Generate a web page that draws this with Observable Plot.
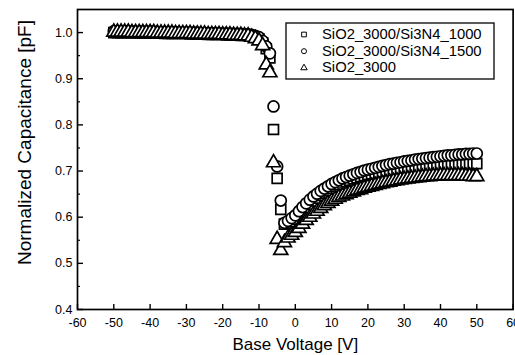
<!DOCTYPE html>
<html><head><meta charset="utf-8">
<script src="https://cdn.jsdelivr.net/npm/d3@7"></script>
<script src="https://cdn.jsdelivr.net/npm/@observablehq/plot@0.6"></script>
<style>
body{margin:0;background:#fff;}
#wrap{position:relative;width:515px;height:355px;overflow:hidden;}
#legend{position:absolute;left:285px;top:22px;}
</style></head><body><div id="wrap"></div>
<script>
const voltage = [-50,-49,-48,-47,-46,-45,-44,-43,-42,-41,-40,-39,-38,-37,-36,-35,-34,-33,-32,-31,
-30,-29,-28,-27,-26,-25,-24,-23,-22,-21,-20,-19,-18,-17,-16,-15,-14,-13,-12,-11,
-10,-9,-8,-7,-6,-5,-4,-3,-2,-1,0,1,2,3,4,5,6,7,8,9,10,11,12,13,14,15,16,17,18,19,
20,21,22,23,24,25,26,27,28,29,30,31,32,33,34,35,36,37,38,39,40,41,42,43,44,45,46,47,48,49,50];

const seriesNames = ["SiO2_3000/Si3N4_1000", "SiO2_3000/Si3N4_1500", "SiO2_3000"];
const seriesSymbols = ["square", "circle", "triangle"];

const cap1000 = [1.000,1.000,1.000,1.000,1.000,1.000,1.000,0.999,0.999,0.999,
0.999,0.999,0.999,0.999,0.998,0.998,0.998,0.998,0.998,0.998,
0.998,0.997,0.997,0.997,0.997,0.997,0.996,0.996,0.996,0.996,
0.996,0.995,0.995,0.995,0.995,0.994,0.994,0.994,
0.993,0.990,0.986,0.978,0.965,0.945,0.790,0.684,0.617,0.585,0.587,0.590,
0.595,0.604,0.612,0.620,0.628,0.635,0.641,0.647,0.652,0.657,
0.662,0.666,0.670,0.674,0.677,0.680,0.683,0.685,0.688,0.690,
0.692,0.694,0.695,0.697,0.698,0.700,0.701,0.702,0.704,0.705,
0.706,0.707,0.708,0.708,0.709,0.710,0.711,0.711,0.712,0.712,
0.713,0.713,0.714,0.714,0.715,0.715,0.715,0.716,0.716,0.716,0.716];

const cap1500 = [1.003,1.003,1.003,1.003,1.003,1.002,1.002,1.002,1.002,1.002,
1.002,1.002,1.001,1.001,1.001,1.001,1.001,1.001,1.000,1.000,
1.000,1.000,1.000,1.000,0.999,0.999,0.999,0.999,0.999,0.998,
0.998,0.998,0.998,0.997,0.997,0.997,0.996,0.996,
0.995,0.993,0.990,0.982,0.970,0.955,0.840,0.710,0.636,0.588,0.592,0.598,
0.604,0.613,0.622,0.630,0.638,0.645,0.651,0.657,0.662,0.667,
0.672,0.676,0.680,0.684,0.687,0.690,0.693,0.696,0.698,0.701,
0.703,0.705,0.707,0.709,0.711,0.713,0.715,0.716,0.718,0.719,
0.721,0.722,0.723,0.725,0.726,0.727,0.728,0.729,0.730,0.731,
0.732,0.733,0.734,0.734,0.735,0.736,0.736,0.737,0.737,0.738,0.738];

const cap3000 = [1.001,1.001,1.001,1.001,1.001,1.000,1.000,1.000,1.000,1.000,
1.000,1.000,0.999,0.999,0.999,0.999,0.999,0.998,0.998,0.998,
0.998,0.998,0.997,0.997,0.997,0.997,0.996,0.996,0.996,0.996,
0.995,0.995,0.995,0.994,0.994,0.994,0.993,0.993,
0.990,0.987,0.982,0.972,0.930,0.913,0.718,0.552,0.528,0.545,0.555,0.561,
0.567,0.576,0.585,0.593,0.600,0.607,0.613,0.619,0.625,0.630,
0.635,0.639,0.643,0.646,0.649,0.652,0.655,0.658,0.660,0.663,
0.665,0.667,0.669,0.671,0.673,0.675,0.676,0.678,0.679,0.681,
0.682,0.683,0.684,0.685,0.686,0.687,0.688,0.688,0.689,0.689,
0.690,0.690,0.690,0.690,0.690,0.690,0.690,0.689,0.689,0.688,0.688];

const xTicks = [-60,-50,-40,-30,-20,-10,0,10,20,30,40,50,60];
const yTicks = [0.4,0.5,0.6,0.7,0.8,0.9,1.0];
const yMinorTicks = [0.45,0.55,0.65,0.75,0.85,0.95];

const capSeries = [cap1000, cap1500, cap3000];
const markerR = {square: 5.6, circle: 5.5, triangle: 5.2};

const rows = capSeries.map((vals, i) => voltage.map((v, j) => ({series: seriesNames[i], v, c: vals[j]})));

const W = 515, H = 355, ML = 77, MR = 2.4, MT = 9, MB = 46;
const plotH = H - MT - MB, plotW = W - ML - MR;

const chart = Plot.plot({
  width: W, height: H,
  marginLeft: ML, marginRight: MR, marginTop: MT, marginBottom: MB,
  style: {fontFamily: "'Liberation Sans', Arial, sans-serif", fontSize: "12.5px", color: "black", background: "white"},
  x: {domain: [-60, 60]},
  y: {domain: [0.4, 1.05]},
  marks: [
    Plot.axisX({ticks: xTicks, tickSize: 0, tickPadding: 9, tickFormat: d => d < 0 ? "-" + (-d) : String(d), label: null}),
    Plot.axisY({ticks: yTicks, tickSize: 0, tickPadding: 5, tickFormat: d => d.toFixed(1), label: null}),
    Plot.tickX(xTicks, {x: d => d, insetTop: plotH - 5, stroke: "black", strokeWidth: 1.4}),
    Plot.tickY(yTicks, {y: d => d, insetRight: plotW - 6, stroke: "black", strokeWidth: 1.4}),
    Plot.tickY(yMinorTicks, {y: d => d, insetRight: plotW - 3, stroke: "black", strokeWidth: 1.2}),
    ...rows.map((data, i) => Plot.dot(data, {
      x: "v", y: "c", symbol: seriesSymbols[i], r: markerR[seriesSymbols[i]],
      stroke: "black", fill: "white", strokeWidth: 1.7
    })),
    Plot.frame({stroke: "black", strokeWidth: 1.7}),
    Plot.text(["Base Voltage [V]"], {frameAnchor: "bottom", lineAnchor: "bottom", dy: 40, fontSize: 17, fill: "black"}),
    Plot.text(["Normalized Capacitance [pF]"], {frameAnchor: "left", rotate: -90, lineAnchor: "bottom", textAnchor: "middle", dx: -47, dy: -17, fontSize: 19, fill: "black"})
  ]
});

const wrap = document.getElementById("wrap");
wrap.appendChild(chart);

// legend
const lg = d3.create("svg").attr("id", "legend").attr("width", 210).attr("height", 58)
  .attr("xmlns", "http://www.w3.org/2000/svg");
lg.append("rect").attr("x", 1).attr("y", 1).attr("width", 208).attr("height", 56)
  .attr("fill", "white").attr("stroke", "black").attr("stroke-width", 1.3);
const legendSize = {square: 22, circle: 20, triangle: 18};
seriesNames.forEach((name, i) => {
  const cy = 12.5 + i * 16.7;
  const sym = {square: d3.symbolSquare, circle: d3.symbolCircle, triangle: d3.symbolTriangle}[seriesSymbols[i]];
  lg.append("path").attr("d", d3.symbol(sym, legendSize[seriesSymbols[i]])())
    .attr("transform", `translate(19,${cy})`).attr("fill", "white").attr("stroke", "black").attr("stroke-width", 1);
  lg.append("text").attr("x", 37).attr("y", 17 + i * 16.7).text(name)
    .attr("font-family", "'Liberation Sans', Arial, sans-serif").attr("font-size", 14.8).attr("fill", "black");
});
wrap.appendChild(lg.node());
</script>
</body></html>
